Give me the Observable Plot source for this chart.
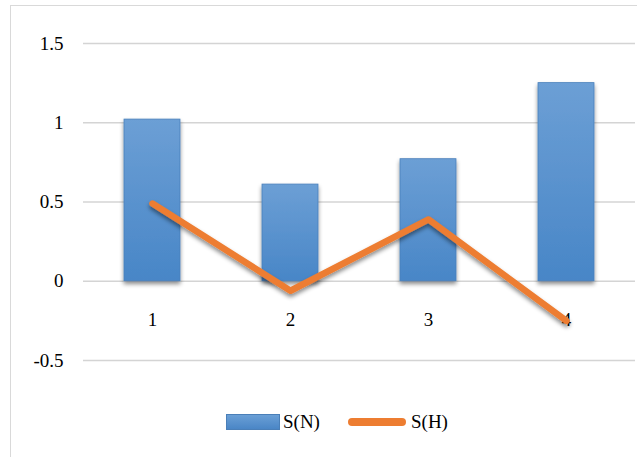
<!DOCTYPE html>
<html>
<head>
<meta charset="utf-8">
<script src="https://cdn.jsdelivr.net/npm/d3@7"></script>
<script src="https://cdn.jsdelivr.net/npm/@observablehq/plot@0.6"></script>
<style>
  html, body { margin: 0; padding: 0; background: #fff; }
  #wrap { position: relative; width: 637px; height: 457px; overflow: hidden; font-family: "Liberation Serif", "Times New Roman", serif; }
  #frame { position: absolute; left: 10px; top: 5px; width: 660px; height: 480px; border: 1px solid #d9d9d9; box-sizing: border-box; }
  #chart { position: absolute; left: 0; top: 0; }
  .legend { position: absolute; top: 411px; display: flex; align-items: center; font-size: 19px; color: #000; }
  .sw-bar { width: 54px; height: 16px; background: linear-gradient(#6a9fd6, #4a86c6); border: 1px solid #4a7fb8; box-sizing: border-box; margin-right: 3px; }
  .sw-line { width: 58px; height: 8px; border-radius: 4px; background: #ed7d31; margin-right: 5px; }
</style>
</head>
<body>
<div id="wrap">
  <div id="frame"></div>
  <div id="chart"></div>
  <div class="legend" style="left:226px;"><div class="sw-bar"></div><span>S(N)</span></div>
  <div class="legend" style="left:348px;"><div class="sw-line"></div><span>S(H)</span></div>
</div>
<script>
const categories = ["1", "2", "3", "4"];
const sN = [1.02, 0.61, 0.77, 1.25];
const sH = [0.49, -0.06, 0.39, -0.25];
const yTicks = [-0.5, 0, 0.5, 1, 1.5];
const yTickLabels = ["-0.5", "0", "0.5", "1", "1.5"];

const rows = categories.map((c, i) => ({cat: c, n: sN[i], h: sH[i]}));

const plot = Plot.plot({
  width: 637,
  height: 457,
  marginLeft: 83,
  marginRight: 2,
  marginTop: 43,
  marginBottom: 97,
  style: {fontFamily: "'Liberation Serif', 'Times New Roman', serif", fontSize: "19px", background: "transparent", overflow: "visible"},
  x: {domain: categories, paddingInner: 0.595, paddingOuter: 0.2975, axis: null},
  y: {domain: [-0.5, 1.5], axis: null},
  marks: [
    Plot.ruleY(yTicks, {stroke: "#d4d4d4", strokeWidth: 1.6}),
    Plot.axisY(yTicks, {tickSize: 0, tickPadding: 20, tickFormat: (d) => yTickLabels[yTicks.indexOf(d)], fontSize: 19, fill: "#000", label: null}),
    Plot.barY(rows, {x: "cat", y: "n", fill: "url(#barGrad)", stroke: "#4a80bb", strokeWidth: 0.8, className: "bars"}),
    Plot.text(categories, {x: (d) => d, y: () => 0, text: (d) => d, dy: 39, fontSize: 19, fill: "#000", lineAnchor: "middle"}),
    Plot.line(rows, {x: "cat", y: "h", stroke: "#ed7d31", strokeWidth: 6.5, strokeLinejoin: "round", strokeLinecap: "round", className: "sline"})
  ]
});

const svg = d3.select(plot);
const defs = svg.insert("defs", ":first-child");
const g = defs.append("linearGradient").attr("id", "barGrad").attr("x1", 0).attr("y1", 0).attr("x2", 0).attr("y2", 1);
g.append("stop").attr("offset", "0%").attr("stop-color", "#6c9fd5");
g.append("stop").attr("offset", "100%").attr("stop-color", "#4886c7");
const f = defs.append("filter").attr("id", "shadow").attr("x", "-20%").attr("y", "-20%").attr("width", "140%").attr("height", "140%");
f.append("feDropShadow").attr("dx", 0).attr("dy", 3).attr("stdDeviation", 2).attr("flood-color", "#000").attr("flood-opacity", 0.45);
svg.selectAll("g.bars rect, g[aria-label='bar'] rect").attr("filter", "url(#shadow)");
svg.selectAll("g.sline path, g[aria-label='line'] path").attr("filter", "url(#shadow)");

document.getElementById("chart").appendChild(plot);
</script>
</body>
</html>
